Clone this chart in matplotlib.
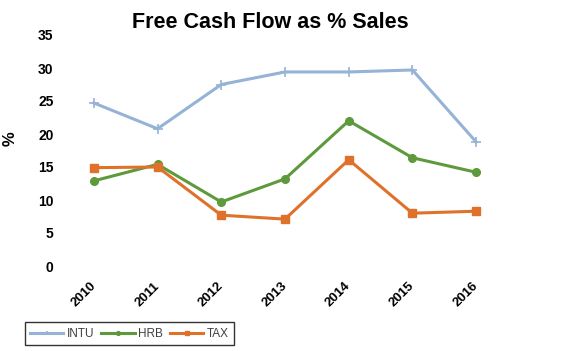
import matplotlib
matplotlib.use("Agg")
import matplotlib.pyplot as plt

plt.rcParams['font.family'] = ['Liberation Sans', 'DejaVu Sans']

years = ['2010', '2011', '2012', '2013', '2014', '2015', '2016']
intu = [24.7, 20.8, 27.5, 29.4, 29.4, 29.7, 18.8]
hrb = [12.9, 15.4, 9.7, 13.2, 22.0, 16.4, 14.2]
tax = [14.9, 15.0, 7.7, 7.1, 16.1, 8.0, 8.3]

fig = plt.figure(figsize=(5.78, 3.51), dpi=100)
ax = fig.add_axes([62/578, 1-266/351, 446/578, 231/351])

x = range(len(years))
ax.plot(x, intu, color='#95b3d7', lw=2.2, marker='+', ms=7, mew=1.2, label='INTU')
ax.plot(x, hrb, color='#5e9a3c', lw=2.2, marker='o', ms=5.5, label='HRB')
ax.plot(x, tax, color='#e0712a', lw=2.2, marker='s', ms=6, label='TAX')

ax.set_xlim(-0.5, len(years) - 0.5)
ax.set_ylim(0, 35)
ax.set_yticks(range(0, 36, 5))
ax.set_xticks(list(x))
ax.set_xticklabels(years, rotation=45, ha='right', va='center', rotation_mode='anchor',
                   fontweight='bold', fontsize=9.5)
for lab in ax.get_yticklabels():
    lab.set_fontweight('bold')
    lab.set_fontsize(10)
ax.tick_params(length=0)
ax.tick_params(axis='y', pad=6)
ax.tick_params(axis='x', pad=13)
for s in ax.spines.values():
    s.set_visible(False)

ax.set_ylabel('%', fontweight='bold', fontsize=12)
ax.yaxis.set_label_coords(-44/446, 0.55)
fig.text(270/578, 0.935, 'Free Cash Flow as % Sales', fontsize=15.5, fontweight='bold',
         ha='center', va='center')

leg = fig.legend(loc='lower left', bbox_to_anchor=(25/578, 6/351), ncol=3, fontsize=8.5,
                 frameon=True, fancybox=False, edgecolor='black', handlelength=2.8,
                 markerscale=0.5, columnspacing=0.6, handletextpad=0.3, borderpad=0.45,
                 borderaxespad=0)
leg.get_frame().set_linewidth(1)
for t in leg.get_texts():
    t.set_color('#404040')

fig.savefig('out.png', dpi=100)
